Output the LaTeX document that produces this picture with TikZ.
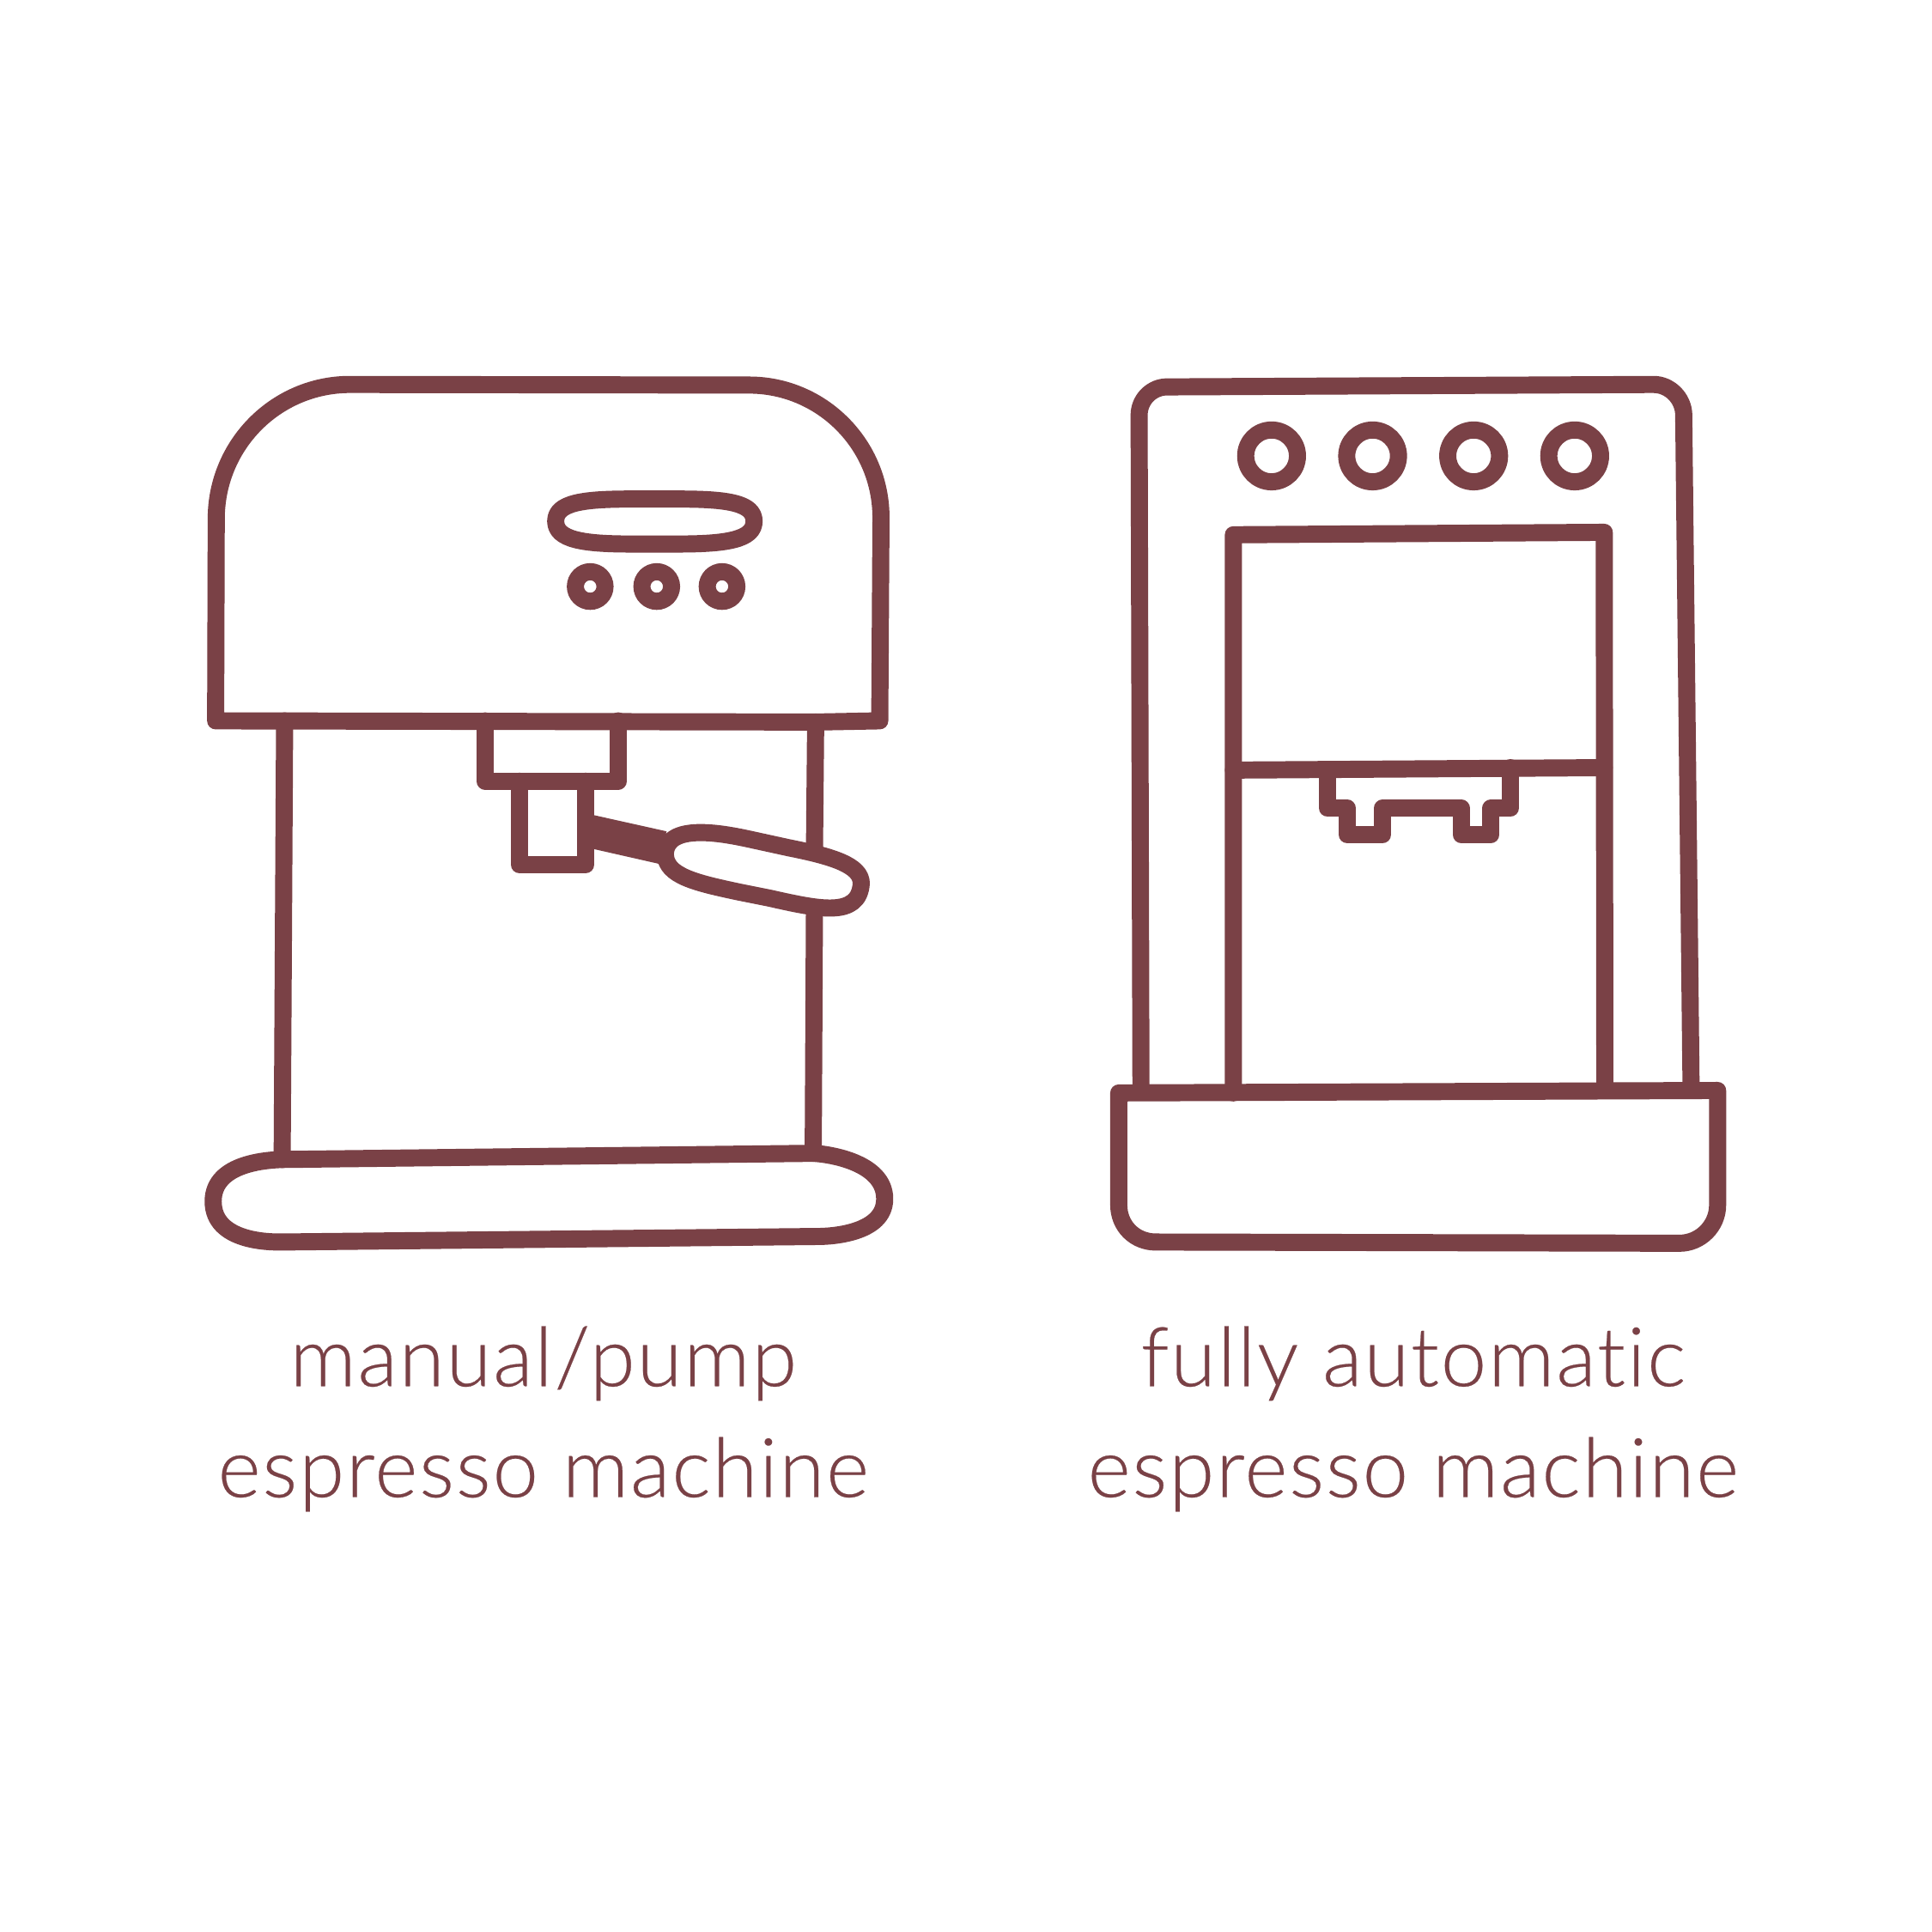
\documentclass[tikz,border=0pt]{standalone}
\usepackage{fontspec}
\newfontfamily\capfont[LetterSpace=2,Ligatures=NoCommon,FakeBold=0.25]{Lato Light}
\definecolor{wine}{HTML}{7A4146}
\tikzset{
  icon/.style={draw=wine,line width=3.95pt,line join=round,line cap=round},
  knobsmall/.style={circle,draw=wine,line width=3.95pt,minimum size=0.24cm,inner sep=0pt},
  knobbig/.style={circle,draw=wine,line width=3.95pt,minimum size=0.42cm,inner sep=0pt},
  caption/.style={anchor=base,text=wine,inner sep=0pt,font=\capfont\fontsize{19pt}{22pt}\selectfont}
}
\begin{document}
\begin{tikzpicture}[x=0.01cm,y=-0.01cm]
\useasboundingbox[fill=white] (0,0) rectangle (1568,1568);
% --- manual machine ---
\draw[icon] (175,585) -- (175.5,421) .. controls (175.5,361) and (224,312) .. (284,312) -- (608,312.5)
  .. controls (667,312.5) and (715.5,361) .. (715,421) -- (714,585) -- (662,586) -- cycle;
\draw[icon] (231,585) -- (229,941);
\draw[icon] (662,586) -- (661,692);
\draw[icon] (661,738) -- (660,936);
\draw[icon] (229,941) -- (660,936) .. controls (672,936.5) and (718,943) .. (718,973)
  .. controls (718,1002) and (672,1003.5) .. (664,1003.5) -- (228,1008)
  .. controls (219,1008) and (173,1008) .. (173,975) .. controls (173,943) and (219,941.5) .. (229,941);
\draw[icon] (512,405) -- (550,405) .. controls (590,405) and (612,408) .. (612,423)
  .. controls (612,438) and (590,441.5) .. (550,441.5) -- (512,441.5)
  .. controls (473,441.5) and (451,438) .. (451,423) .. controls (451,408) and (473,405) .. (512,405) -- cycle;
\node[knobsmall] (k1) at (479,476) {};
\node[knobsmall] (k2) at (533,476) {};
\node[knobsmall] (k3) at (586,476) {};
\draw[icon] (393.8,585) -- (393.8,634) -- (501.7,634) -- (501.7,585);
\draw[icon] (421.6,634) -- (421.6,701.7) -- (475.3,701.7) -- (475.3,634);
\fill[wine] (475,660) -- (541,674.7) -- (534.5,701) -- (475,687.5) -- cycle;
\draw[icon] (540,693) .. controls (541,668) and (585,676) .. (608,681) -- (640,688)
  .. controls (675,695) and (699,702) .. (699,717) .. controls (697,745) and (665,738) .. (625,729) -- (600,724)
  .. controls (565,716.5) and (540,711) .. (540,693) -- cycle;
% --- automatic machine ---
\draw[icon] (926,886) -- (924.5,337) .. controls (924.5,324) and (935,314) .. (947,314) -- (1342,312)
  .. controls (1355,312) and (1366,323) .. (1366.5,336) -- (1372.5,885);
\node[knobbig] (a1) at (1032,370) {};
\node[knobbig] (a2) at (1114,370) {};
\node[knobbig] (a3) at (1196,370) {};
\node[knobbig] (a4) at (1278,370) {};
\draw[icon] (1001,887) -- (1001,434) -- (1302,432) -- (1302.5,885);
\draw[icon] (1001,625) -- (1302,623);
\draw[icon] (1077.5,625) -- (1077.5,656) -- (1093.5,656) -- (1093.5,677.5) -- (1122,677.5) -- (1122,656)
  -- (1186,656) -- (1186,677.5) -- (1210,677.5) -- (1210,656) -- (1225.7,656) -- (1225.7,623);
\draw[icon] (908,887) -- (1394,885) -- (1394,978) .. controls (1394,995) and (1380,1009) .. (1363,1009)
  -- (938,1008) .. controls (921,1008) and (908,995) .. (908,978) -- cycle;
% --- captions ---
\node[caption] (t1) at (441,1125) {manual/pump};
\node[caption] (t2) at (441,1215) {espresso machine};
\node[caption] (t3) at (1147,1125) {fully automatic};
\node[caption] (t4) at (1147,1215) {espresso machine};
\end{tikzpicture}
\end{document}
